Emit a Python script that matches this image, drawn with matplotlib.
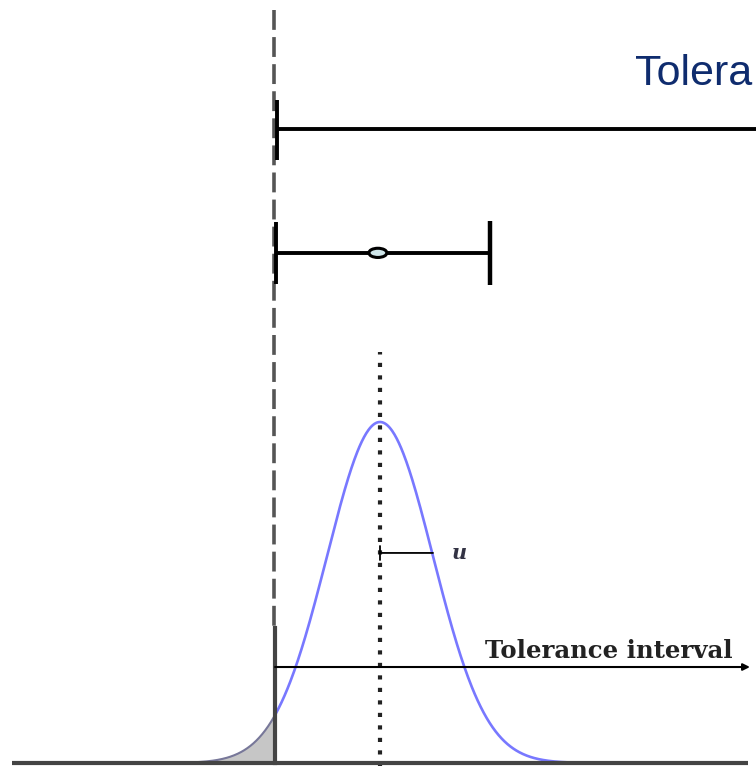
import numpy as np
import matplotlib.pyplot as plt
from matplotlib.patches import Ellipse

# process distribution (in units of sigma, peak scaled to 1)
mean = 0.0
sd = 1.0
lower_spec = -1.98          # lower tolerance limit (dashed line)
ci_low, ci_high = -1.96, 2.08  # confidence interval for the mean
ci_center = -0.04
shift = 1.0                 # offset arrow "u"
x_min, x_max = -380 / 53, 376 / 53

z = np.linspace(-4.2, 4.2, 600)
pdf = np.exp(-0.5 * ((z - mean) / sd) ** 2)

fig = plt.figure(figsize=(7.56, 7.66), dpi=100)
ax = fig.add_axes([0, 0, 1, 1])
ax.set_xlim(x_min, x_max)
ax.set_ylim(-3 / 341, 763 / 341)
ax.axis("off")

# baseline
ax.plot([-6.94, 6.94], [0, 0], color="#444444", lw=3, solid_capstyle="butt", zorder=3)

# shaded tail below the lower limit
tail = z <= lower_spec
ax.fill_between(z[tail], 0, pdf[tail], color="#c6c6c6", zorder=1)
ax.plot(z[tail], pdf[tail], color="#777799", lw=1.5, zorder=2)

# normal curve
ax.plot(z[~tail], pdf[~tail], color="#7878ff", lw=1.9, zorder=2)

# mean line
ax.plot([mean, mean], [-0.02, 1.205], color="#222222", lw=3, ls=(0, (1, 2)), zorder=2)

# lower tolerance limit (dashed, drawn downward from the top)
ax.plot([lower_spec - 0.02] * 2, [2.208, 0.39], color="#555555", lw=2.6, ls=(0, (5.5, 2)), zorder=2)
ax.plot([lower_spec] * 2, [0, 0.396], color="#444444", lw=3, zorder=3)

# tolerance interval bar (top)
top_y = 1.859
ax.plot([lower_spec + 0.02, x_max + 0.1], [top_y, top_y], color="k", lw=2.8, solid_capstyle="butt")
ax.plot([lower_spec + 0.03] * 2, [top_y - 0.091, top_y + 0.085], color="k", lw=2.8, solid_capstyle="butt")
ax.text(4.81, 1.988, "Tolera", color="#0f2c6e", fontsize=31, family="Liberation Sans",
        ha="left", va="baseline")

# confidence interval for mean
ci_y = 1.496
ax.plot([ci_low, ci_high], [ci_y, ci_y], color="k", lw=2.8, solid_capstyle="butt")
ax.plot([ci_low] * 2, [ci_y - 0.091, ci_y + 0.091], color="k", lw=2.8, solid_capstyle="butt")
ax.plot([ci_high] * 2, [ci_y - 0.094, ci_y + 0.094], color="k", lw=3.2, solid_capstyle="butt")
ax.add_patch(Ellipse((ci_center, ci_y), 0.34, 0.027, facecolor="#cfe6ea", edgecolor="k", lw=2.2, zorder=4))

# tolerance interval arrow
tol_y = 0.2815
ax.annotate("", xy=(6.98, tol_y), xytext=(lower_spec, tol_y),
            arrowprops=dict(arrowstyle="-|>", color="k", lw=1.5, mutation_scale=10, shrinkA=0, shrinkB=0))
ax.text(1.98, tol_y + 0.026, "Tolerance interval", family="DejaVu Serif", fontweight="bold",
        fontsize=17.6, color="#222222", ha="left", va="baseline")

# shift arrow u
u_y = 0.616
ax.annotate("", xy=(mean + shift, u_y), xytext=(mean, u_y),
            arrowprops=dict(arrowstyle="|-|,widthA=0.5,widthB=0.0", color="k", lw=1.3,
                            shrinkA=0, shrinkB=0))
ax.text(mean + 1.36, u_y, "u", family="DejaVu Serif", style="italic", fontweight="bold",
        fontsize=15, color="#333344", ha="left", va="center")

fig.savefig("out.png", dpi=100)
